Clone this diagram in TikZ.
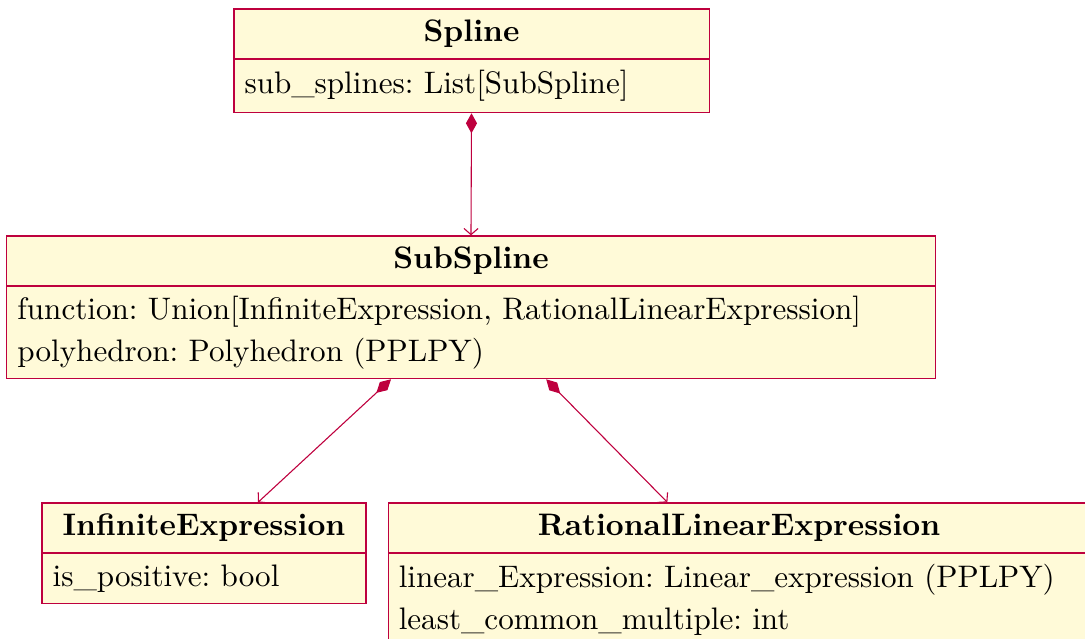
\documentclass[tikz,border=0pt]{standalone}
\usepackage{fontspec}
\usepackage{tikz}
\usetikzlibrary{arrows.meta, positioning}
\definecolor{umlred}{RGB}{190, 0, 62}
\definecolor{umlfill}{RGB}{255, 250, 216}
\frenchspacing

\begin{document}
\begin{tikzpicture}[
  umlhead/.style={draw=umlred, fill=umlfill, minimum height=0.565cm, inner sep=0pt, font=\bfseries},
  umlattr/.style={draw=umlred, fill=umlfill, anchor=north, inner xsep=0.12cm, inner ysep=0pt, align=left, font=\fontsize{10}{13.3}\selectfont},
  compose/.style={draw=umlred, line width=0.35pt, {Diamond[length=0.226cm, width=0.125cm, fill=umlred]}-{Straight Barb[length=0.07cm, width=0.16cm]}}
]
  \useasboundingbox (0, 0) rectangle (12.26, -7.22);

  % classes: header with the name, attributes below
  \node[umlhead, minimum width=5.37cm] (spline) at (5.328, -0.384) {Spline};
  \node[umlattr, text width=5.13cm, minimum height=0.599cm] (spline-attr) at (5.328, -0.667) {sub\_splines: List[SubSpline]};

  \node[umlhead, minimum width=10.49cm] (sub) at (5.322, -2.949) {SubSpline};
  \node[umlattr, text width=10.25cm, minimum height=1.04cm] (sub-attr) at (5.322, -3.232) {function: Union[InfiniteExpression, RationalLinearExpression]\\polyhedron: Polyhedron (PPLPY)};

  \node[umlhead, minimum width=3.66cm] (inf) at (2.305, -5.966) {InfiniteExpression};
  \node[umlattr, text width=3.42cm, minimum height=0.565cm] (inf-attr) at (2.305, -6.249) {is\_positive: bool};

  \node[umlhead, minimum width=7.93cm] (rat) at (8.351, -5.966) {RationalLinearExpression};
  \node[umlattr, text width=7.69cm, minimum height=1.04cm] (rat-attr) at (8.351, -6.249) {linear\_Expression: Linear\_expression (PPLPY)\\least\_common\_multiple: int};

  % composition links
  \draw[compose] (spline-attr.south) -- (sub.north);
  \draw[compose] ([xshift=-0.904cm]sub-attr.south) -- ([xshift=0.61cm]inf.north);
  \draw[compose] ([xshift=0.85cm]sub-attr.south) -- ([xshift=-0.81cm]rat.north);
\end{tikzpicture}
\end{document}
